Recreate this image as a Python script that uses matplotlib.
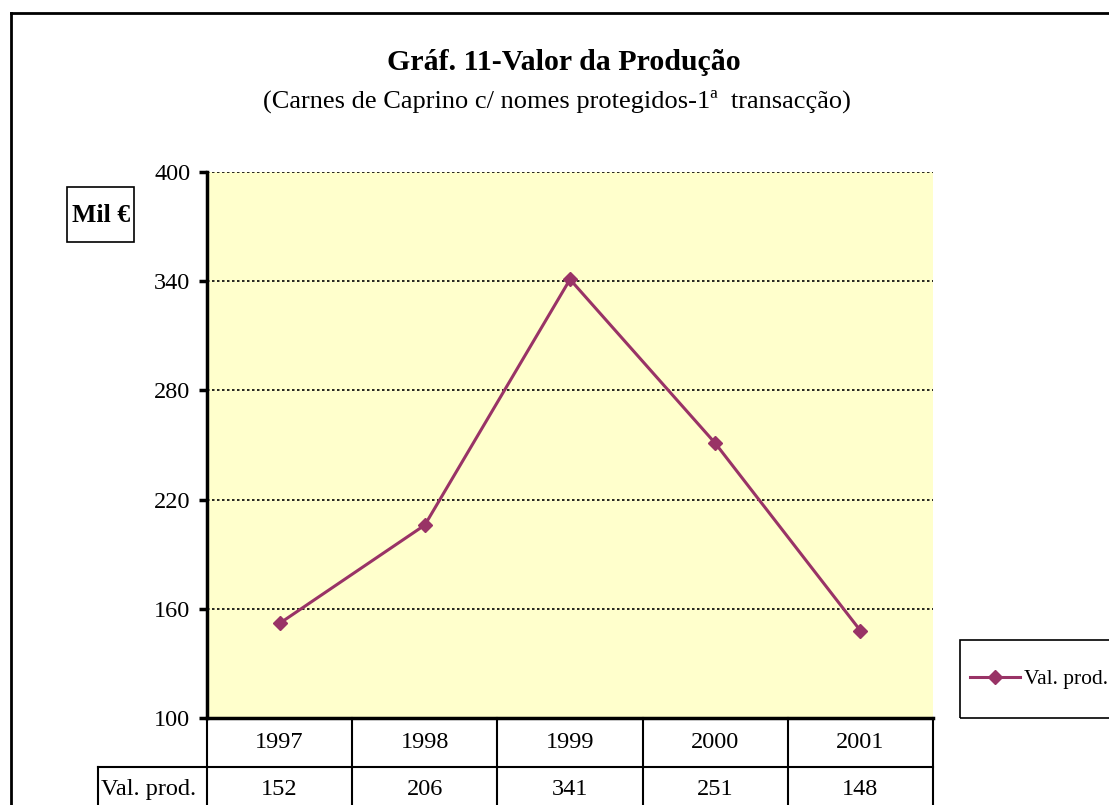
import matplotlib
matplotlib.use("Agg")
import matplotlib.pyplot as plt
from matplotlib.lines import Line2D
from matplotlib.patches import Rectangle

years = ["1997", "1998", "1999", "2000", "2001"]
values = [152, 206, 341, 251, 148]
series_name = "Val. prod."
title = "Gráf. 11-Valor da Produção"
subtitle = "(Carnes de Caprino c/ nomes protegidos-1ª  transacção)"
unit_label = "Mil €"
yticks = [100, 160, 220, 280, 340, 400]

W, H = 1109, 805
plt.rcParams['font.family'] = ['Liberation Serif', 'DejaVu Serif']
line_color = "#993366"

fig = plt.figure(figsize=(W / 100, H / 100), dpi=100)
fig.patch.set_facecolor("white")

def fx(px):
    return px / W

def fy(py):
    return 1 - py / H

L, R, T, B = 207, 933, 172, 718
ax = fig.add_axes([fx(L), fy(B), fx(R - L), (B - T) / H])
ax.set_facecolor("#FFFFCC")
x = list(range(len(years)))
ax.plot(x, values, color=line_color, lw=2.2, marker="D", ms=7,
        markerfacecolor=line_color, markeredgecolor=line_color, label=series_name, zorder=3)
ax.set_xlim(-0.5, len(years) - 0.5)
ax.set_ylim(yticks[0], yticks[-1])
ax.set_yticks(yticks)
ax.set_yticklabels([str(v) for v in yticks], fontsize=17.5)
ax.set_xticks([])
for v in yticks[1:]:
    ax.axhline(v, color="black", lw=1.2, ls=(0, (1.5, 1.5)), zorder=1)
for s in ["top", "right"]:
    ax.spines[s].set_visible(False)
ax.spines["left"].set_linewidth(2.5)
ax.spines["bottom"].set_linewidth(2.5)
ax.tick_params(axis="y", direction="out", length=6, width=2.5, pad=6)

# Data table below the axes
col_w = (R - L) / len(years)
row1_bottom = 767
row2_bottom = 816
tkw = dict(transform=fig.transFigure, ha="center", va="center", fontsize=17.5)
for i, (yr, v) in enumerate(zip(years, values)):
    cx = L + col_w * (i + 0.5)
    fig.text(fx(cx), fy((B + row1_bottom) / 2), yr, **tkw)
    fig.text(fx(cx), fy((row1_bottom + row2_bottom) / 2 - 2), str(v), **tkw)
lkw = dict(color="black", lw=1.5, transform=fig.transFigure)
for i in range(len(years) + 1):
    xx = L + col_w * i
    fig.add_artist(Line2D([fx(xx), fx(xx)], [fy(B), fy(H + 5)], **lkw))
fig.add_artist(Line2D([fx(98), fx(R)], [fy(row1_bottom), fy(row1_bottom)], **lkw))
fig.add_artist(Line2D([fx(98), fx(98)], [fy(row1_bottom), fy(H + 5)], **lkw))
fig.text(fx(101), fy((row1_bottom + row2_bottom) / 2 - 2), series_name,
         transform=fig.transFigure, ha="left", va="center", fontsize=17.5)

# Titles
fig.text(fx(564), fy(62), title, ha="center", va="center", fontsize=21.5, fontweight="bold")
fig.text(fx(557), fy(101), subtitle, ha="center", va="center", fontsize=19)

# Unit box
fig.add_artist(Rectangle((fx(67), fy(242)), fx(134 - 67), (242 - 187) / H,
                         transform=fig.transFigure, fill=False, ec="black", lw=1.2))
fig.text(fx(101.5), fy(216), unit_label, ha="center", va="center", fontsize=18.5,
         fontweight="bold")

# Legend
fig.add_artist(Rectangle((fx(960), fy(718)), fx(160), (718 - 640) / H,
                         transform=fig.transFigure, fill=False, ec="black", lw=1.2))
fig.add_artist(Line2D([fx(970), fx(1020)], [fy(677), fy(677)], color=line_color, lw=2.2,
                      transform=fig.transFigure))
fig.add_artist(Line2D([fx(995)], [fy(677)], color=line_color, marker="D", ms=7,
                      transform=fig.transFigure))
fig.text(fx(1024), fy(679), series_name, ha="left", va="center", fontsize=15.5)

# Outer border
fig.add_artist(Line2D([fx(11), fx(W + 5)], [fy(13), fy(13)], color="black", lw=2,
                      transform=fig.transFigure))
fig.add_artist(Line2D([fx(11), fx(11)], [fy(13), fy(H + 5)], color="black", lw=2,
                      transform=fig.transFigure))

fig.savefig("out.png", dpi=100)
